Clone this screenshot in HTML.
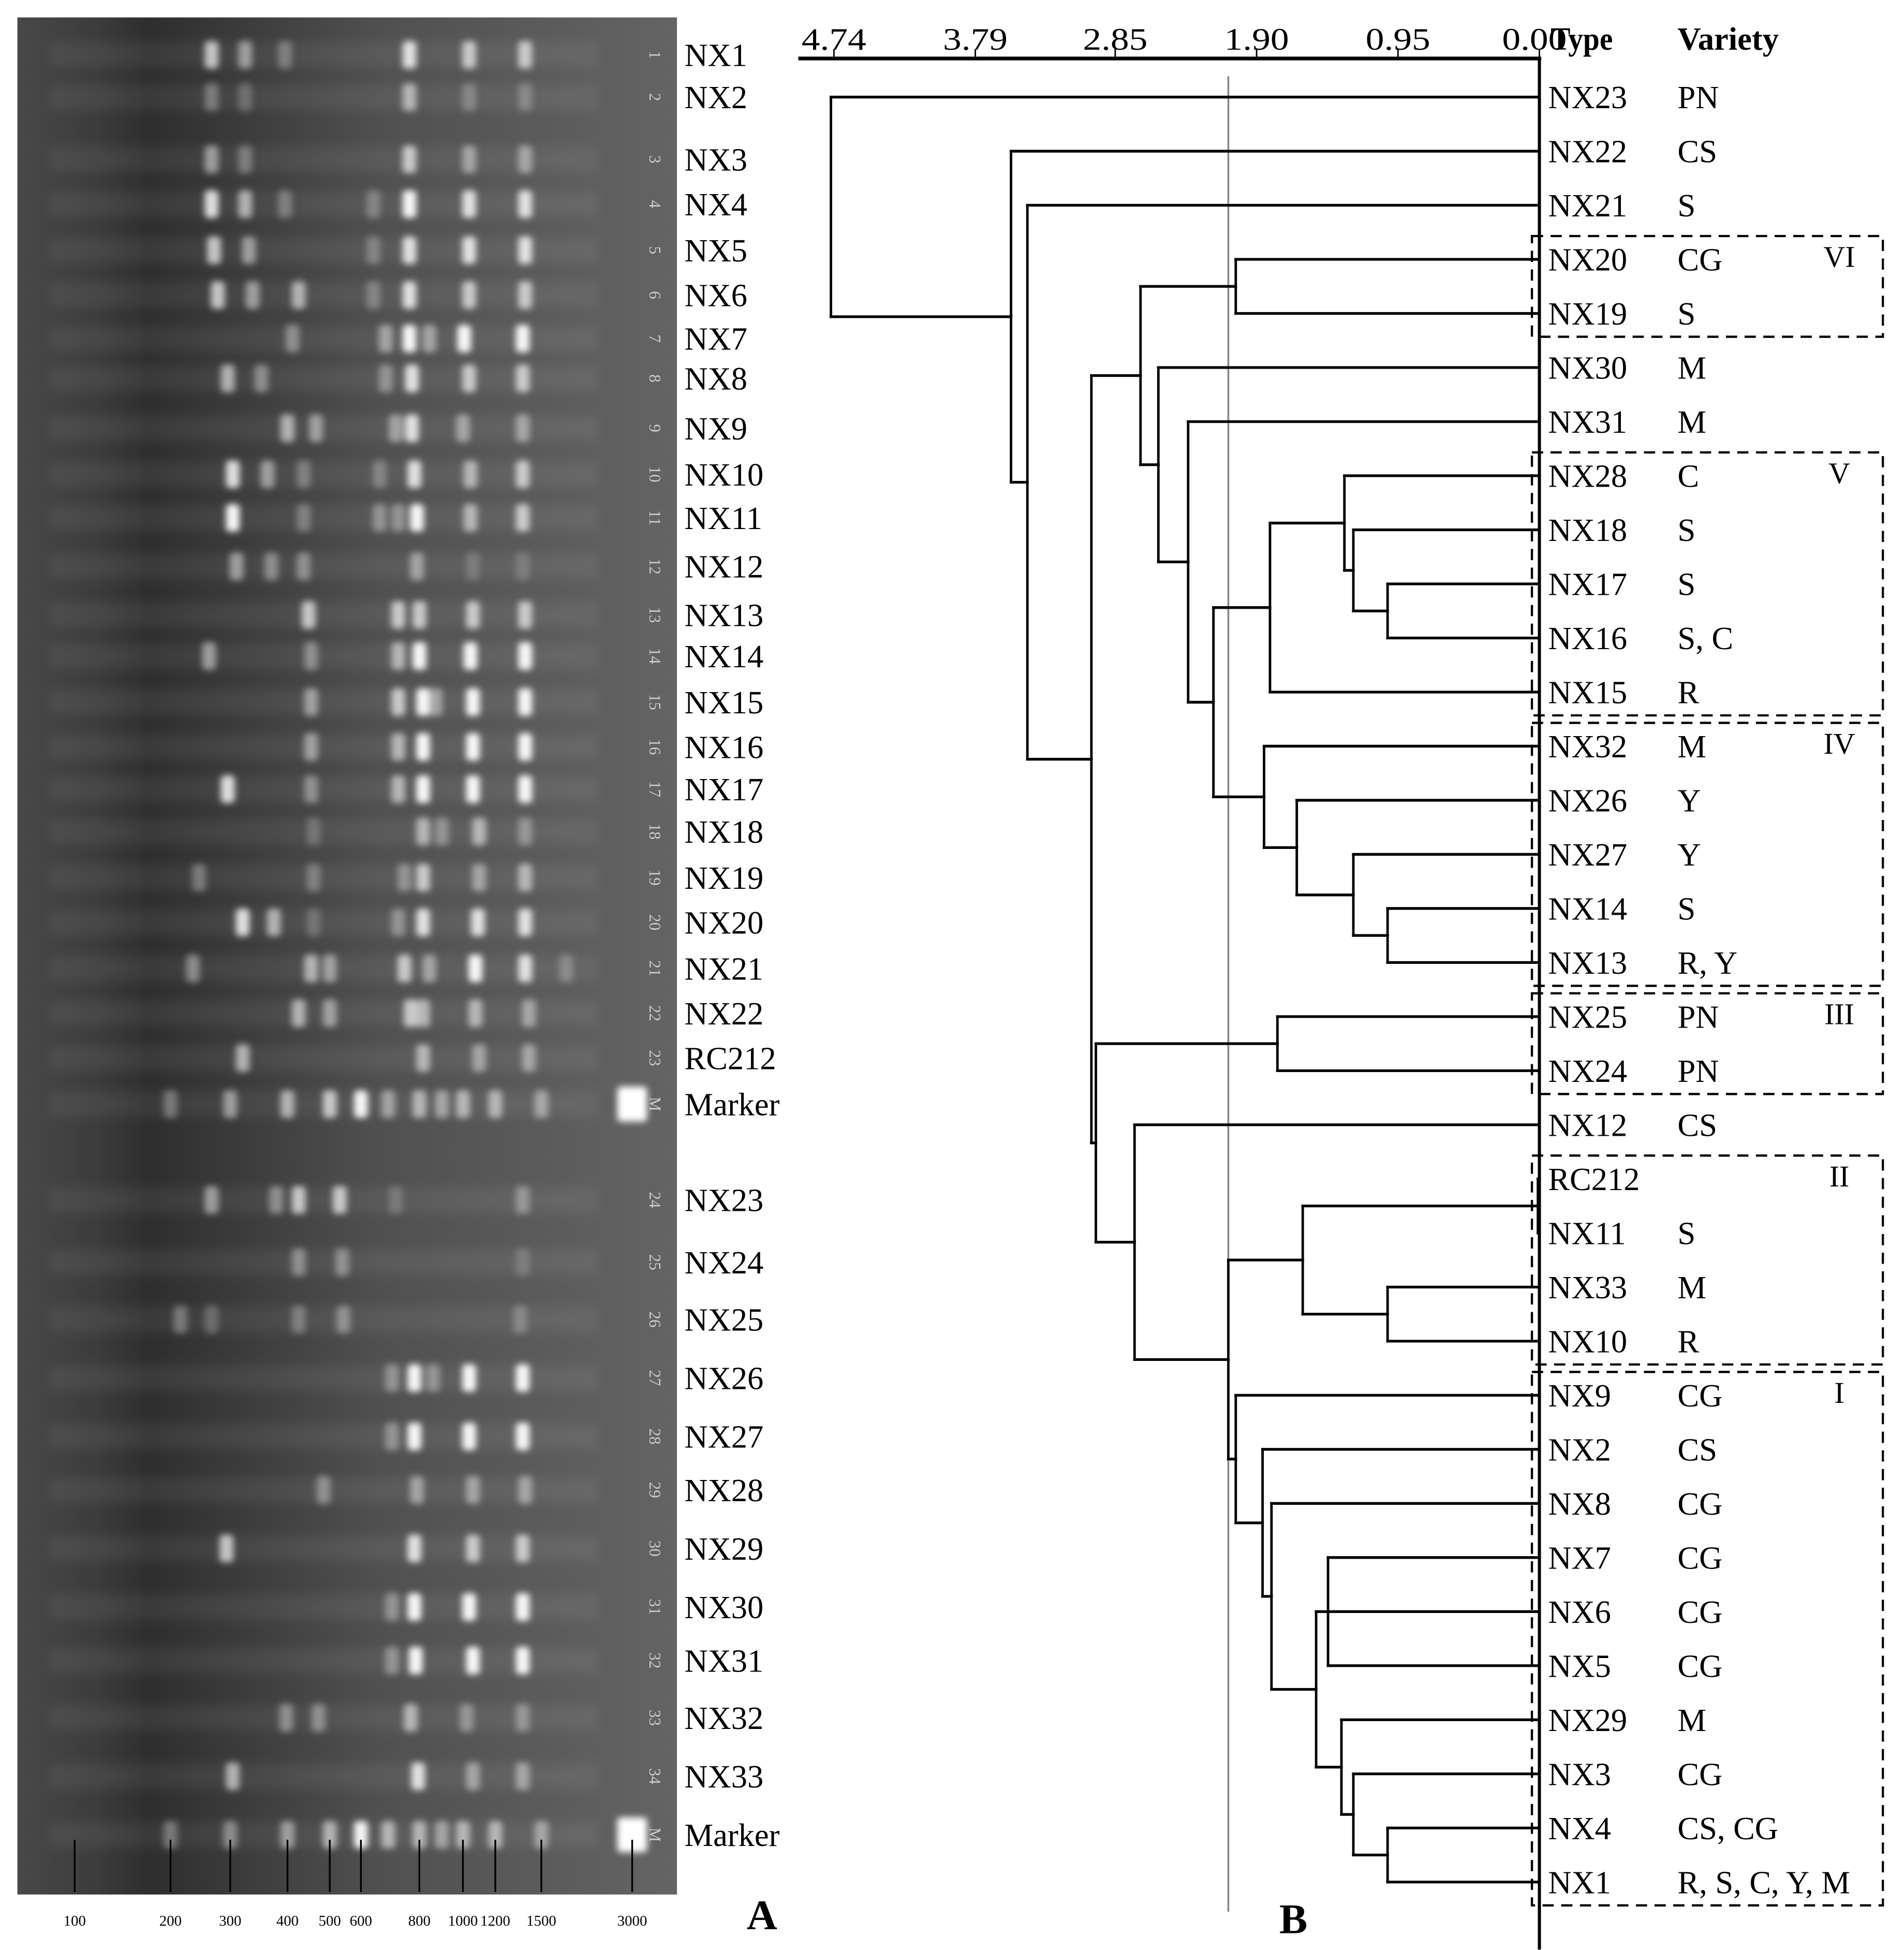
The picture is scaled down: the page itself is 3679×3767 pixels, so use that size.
<!DOCTYPE html>
<html><head><meta charset="utf-8"><style>
html,body{margin:0;padding:0;background:#fff}
svg{display:block}
text{font-family:"Liberation Serif",serif}
</style></head><body>
<svg width="3679" height="3767" viewBox="0 0 3679 3767">
<defs>
<linearGradient id="gelg" x1="0" x2="1" y1="0" y2="0">
<stop offset="0" stop-color="#484848"/><stop offset="0.12" stop-color="#3c3c3c"/><stop offset="0.2" stop-color="#2e2e2e"/><stop offset="0.55" stop-color="#505050"/><stop offset="1" stop-color="#646464"/>
</linearGradient>
<filter id="blur" x="-50%" y="-50%" width="200%" height="200%"><feGaussianBlur stdDeviation="2.6"/></filter>
<filter id="blur2" x="-10%" y="-50%" width="120%" height="200%"><feGaussianBlur stdDeviation="4"/></filter>
</defs>
<g transform="scale(2.4046)">
<g id="gel">
<rect x="14" y="14" width="530" height="1508" fill="url(#gelg)"/>
<g id="streaks" filter="url(#blur2)"></g>
<g id="bands" filter="url(#blur)"></g>
<g id="lanenums"></g>
<g id="gelticks"></g>
</g>
<g id="lanelabels"></g>
<text x="600" y="1550" font-size="34" font-weight="bold">A</text>
<text x="1028" y="1553" font-size="34" font-weight="bold">B</text>
<g id="dendro"></g>
</g>
</svg>
<script>
const NS="http://www.w3.org/2000/svg";
function mk(tag,attrs,parent){const e=document.createElementNS(NS,tag);for(const k in attrs)e.setAttribute(k,attrs[k]);parent.appendChild(e);return e;}
// ---------- gel data ----------
const laneNames=["NX1","NX2","NX3","NX4","NX5","NX6","NX7","NX8","NX9","NX10","NX11","NX12","NX13","NX14","NX15","NX16","NX17","NX18","NX19","NX20","NX21","NX22","RC212","Marker","NX23","NX24","NX25","NX26","NX27","NX28","NX29","NX30","NX31","NX32","NX33","Marker"];
const laneNums=["1","2","3","4","5","6","7","8","9","10","11","12","13","14","15","16","17","18","19","20","21","22","23","M","24","25","26","27","28","29","30","31","32","33","34","M"];
const laneY=[44,78,128,164,201,237,272,304,344,381,416,455,494,527,564,600,634,668,705,741,778,814,850,887,964,1014,1060,1107,1154,1197,1244,1291,1334,1380,1427,1474];
const laneBands=[
[[170,.8],[197,.6],[229,.4],[329,.9],[377,.8],[422,.8]],
[[170,.4],[197,.3],[329,.7],[377,.4],[422,.4]],
[[170,.6],[197,.4],[329,.8],[377,.6],[422,.6]],
[[170,.9],[197,.7],[229,.4],[300,.4],[329,1],[377,.9],[422,.9]],
[[172,.8],[200,.6],[300,.4],[329,.9],[377,.9],[422,.9]],
[[175,.8],[203,.6],[240,.7],[300,.4],[329,.9],[377,.8],[422,.8]],
[[235,.5],[310,.6],[329,1],[345,.6],[373,1],[420,1]],
[[183,.7],[210,.5],[310,.5],[331,.9],[377,.8],[420,.8]],
[[231,.7],[254,.6],[318,.6],[331,.9],[372,.6],[420,.6]],
[[187,.9],[215,.6],[244,.4],[305,.4],[333,.9],[378,.7],[420,.8]],
[[187,1],[244,.4],[305,.5],[320,.5],[335,1],[378,.7],[420,.8]],
[[190,.6],[218,.5],[244,.5],[335,.6],[380,.3],[420,.3]],
[[248,.8],[320,.8],[337,.8],[380,.8],[422,.8]],
[[168,.6],[250,.5],[320,.7],[337,1],[378,1],[422,1]],
[[250,.6],[320,.8],[340,1],[350,.6],[380,1],[422,1]],
[[250,.6],[320,.7],[340,1],[380,1],[422,1]],
[[183,.9],[250,.5],[320,.7],[340,1],[380,1],[422,1]],
[[252,.3],[340,.7],[355,.5],[385,.7],[422,.5]],
[[160,.4],[252,.4],[325,.5],[340,.8],[385,.6],[422,.7]],
[[195,.9],[220,.7],[252,.3],[320,.5],[340,.9],[384,.9],[422,.9]],
[[155,.5],[250,.7],[265,.6],[325,.8],[345,.6],[382,1],[422,.9],[455,.4]],
[[240,.7],[265,.6],[330,.8],[340,.7],[382,.7],[425,.6]],
[[195,.7],[340,.7],[385,.6],[425,.6]],
[[137,.4],[185,.6],[231,.7],[265,.8],[290,1],[312,.6],[337,.7],[355,.6],[372,.7],[398,.7],[435,.6],[508,1.3]],
[[170,.6],[222,.5],[240,.8],[273,.8],[318,.3],[420,.5]],
[[240,.5],[275,.5],[420,.3]],
[[145,.4],[170,.3],[240,.4],[276,.5],[418,.4]],
[[315,.5],[333,1],[348,.5],[377,1],[420,1]],
[[315,.5],[333,1],[377,1],[420,1]],
[[260,.5],[335,.6],[380,.6],[422,.6]],
[[182,.8],[333,.9],[380,.8],[420,.8]],
[[315,.5],[333,1],[377,1],[420,1]],
[[315,.5],[334,1],[380,1],[420,1]],
[[230,.5],[256,.5],[330,.7],[375,.5],[420,.5]],
[[187,.7],[336,.9],[380,.6],[420,.6]],
[[137,.4],[185,.5],[231,.6],[265,.7],[290,1],[312,.7],[337,.7],[355,.6],[372,.7],[398,.7],[435,.6],[508,1.3]]
];
const markerSizes=["100","200","300","400","500","600","800","1000","1200","1500","3000"];
const markerX=[60,137,185,231,265,290,337,372,398,435,508];
// ---------- dendrogram data ----------
const leaves=["NX23","NX22","NX21","NX20","NX19","NX30","NX31","NX28","NX18","NX17","NX16","NX15","NX32","NX26","NX27","NX14","NX13","NX25","NX24","NX12","RC212","NX11","NX33","NX10","NX9","NX2","NX8","NX7","NX6","NX5","NX29","NX3","NX4","NX1"];
const varieties=["PN","CS","S","CG","S","M","M","C","S","S","S, C","R","M","Y","Y","S","R, Y","PN","PN","CS","","S","M","R","CG","CS","CG","CG","CG","CG","M","CG","CS, CG","R, S, C, Y, M"];
const axisTicks=[4.74,3.79,2.85,1.90,0.95,0.00];
const cutHeight=2.09;
const boxes=[["VI","NX20","NX19"],["V","NX28","NX15"],["IV","NX32","NX13"],["III","NX25","NX24"],["II","RC212","NX10"],["I","NX9","NX1"]];
const n1716=[1.02,"NX17","NX16"];
const n18=[1.25,"NX18",n1716];
const n28=[1.31,"NX28",n18];
const nV=[1.81,n28,"NX15"];
const n1413=[1.02,"NX14","NX13"];
const n27=[1.25,"NX27",n1413];
const n26=[1.63,"NX26",n27];
const nIV=[1.85,"NX32",n26];
const n2175=[2.19,nV,nIV];
const n31=[2.36,"NX31",n2175];
const n30=[2.56,"NX30",n31];
const nVI=[2.04,"NX20","NX19"];
const nTop=[2.68,nVI,n30];
const nIII=[1.76,"NX25","NX24"];
const nRC=[0.01,"RC212","NX11"];
const n3310=[1.02,"NX33","NX10"];
const nII=[1.59,nRC,n3310];
const n41=[1.02,"NX4","NX1"];
const n3=[1.25,"NX3",n41];
const n29=[1.33,"NX29",n3];
const n765=[1.42,"NX7","NX6","NX5"];
const n150=[1.50,n765,n29];
const n8=[1.80,"NX8",n150];
const n2=[1.86,"NX2",n8];
const nI=[2.04,"NX9",n2];
const n209=[2.09,nII,nI];
const n12=[2.72,"NX12",n209];
const nBot=[2.98,nIII,n12];
const n301=[3.01,nTop,nBot];
const n21=[3.44,"NX21",n301];
const n22=[3.55,"NX22",n21];
const tree=[4.76,"NX23",n22];

const streakG=document.getElementById('streaks');
laneY.forEach(y=>{
  const s=mk('rect',{x:40,y:y-10,width:440,height:20,fill:'#fff',opacity:0.06},streakG);
  
  
});
const bandsG=document.getElementById('bands');
laneBands.forEach((bl,i)=>{
  bl.forEach(b=>{
    const big=b[1]>1.1;
    const w=big?24:11, h=big?28:22;
    const v=Math.round(Math.min(255,110+145*Math.min(b[1],1)));
    const r=mk('rect',{x:b[0]-w/2,y:laneY[i]-h/2,width:w,height:h,rx:3,fill:'rgb('+v+','+v+','+v+')',opacity:Math.min(1,0.3+0.65*b[1])},bandsG);
    
    
  });
});
const numG=document.getElementById('lanenums'), labG=document.getElementById('lanelabels');
laneNames.forEach((n,i)=>{
  const t=mk('text',{x:0,y:0,'font-size':13,fill:'#ccc',transform:'translate(522,'+laneY[i]+') rotate(90)','text-anchor':'middle'},numG);
  t.textContent=laneNums[i];
  
  
  const l=mk('text',{x:550,y:laneY[i]+9,'font-size':26,fill:'#000'},labG);
  l.textContent=n;
  
  
});
const tickG=document.getElementById('gelticks');
markerSizes.forEach((s,i)=>{
  const ln=mk('line',{x1:markerX[i],x2:markerX[i],y1:1478,y2:1520,stroke:'#000','stroke-width':1.4},tickG);
  
  
  const t=mk('text',{x:markerX[i],y:1547,'font-size':12,'text-anchor':'middle'},tickG);
  t.textContent=s;
  
  
});
const X0=1237, PX=119.6, Y0=78, DY=(1512-78)/33;
const xs=h=>X0-h*PX;
const yOf=name=>Y0+leaves.indexOf(name)*DY;
const D=document.getElementById('dendro');
function seg(x1,y1,x2,y2,w,name,col){const l=mk('line',{x1:x1,y1:y1,x2:x2,y2:y2,stroke:col||'#000','stroke-width':w,'stroke-linecap':'square'},D);return l;}
function draw(node){
  if(typeof node==='string') return {y:yOf(node),x:X0};
  const x=xs(node[0]);
  const kids=node.slice(1).map(draw);
  kids.forEach(k=>seg(x,k.y,k.x,k.y,2.2,'branch-horizontal'));
  const yy=kids.map(k=>k.y);
  const lo=Math.min.apply(null,yy), hi=Math.max.apply(null,yy);
  seg(x,lo,x,hi,2,'branch-vertical');
  return {x:x,y:(lo+hi)/2};
}
seg(643,47,X0,47,3,'distance-axis-line');
axisTicks.forEach(t=>{
  seg(xs(t),47,xs(t),40,1.2,'axis-tick');
  const tx=mk('text',{x:xs(t)+(t===0?-4:0),y:40,'font-size':25,'text-anchor':'middle',textLength:52,lengthAdjust:'spacingAndGlyphs'},D);
  tx.textContent=t.toFixed(2);
  
  
});
seg(X0,47,X0,1565,2.5,'leaf-baseline');
seg(xs(cutHeight),62,xs(cutHeight),1535,1.5,'cutoff-line','#888');
draw(tree);
const h1=mk('text',{x:1246,y:40,'font-size':26,'font-weight':'bold',textLength:50,lengthAdjust:'spacingAndGlyphs'},D);h1.textContent='Type';


const h2=mk('text',{x:1348,y:40,'font-size':26,'font-weight':'bold'},D);h2.textContent='Variety';


leaves.forEach((n,i)=>{
  const y=yOf(n)+9;
  const t=mk('text',{x:1244,y:y,'font-size':26},D);t.textContent=n;
  
  
  const v=mk('text',{x:1348,y:y,'font-size':26},D);v.textContent=varieties[i];
  
  
});
boxes.forEach(b=>{
  const y1=yOf(b[1])-DY/2+3, y2=yOf(b[2])+DY/2-3;
  const r=mk('rect',{x:1231,y:y1,width:282,height:y2-y1,fill:'none',stroke:'#000','stroke-width':1.8,'stroke-dasharray':'9,6'},D);
  
  
  const t=mk('text',{x:1478,y:yOf(b[1])+6,'font-size':24,'text-anchor':'middle'},D);t.textContent=b[0];
  
  
});
</script>
</body></html>
